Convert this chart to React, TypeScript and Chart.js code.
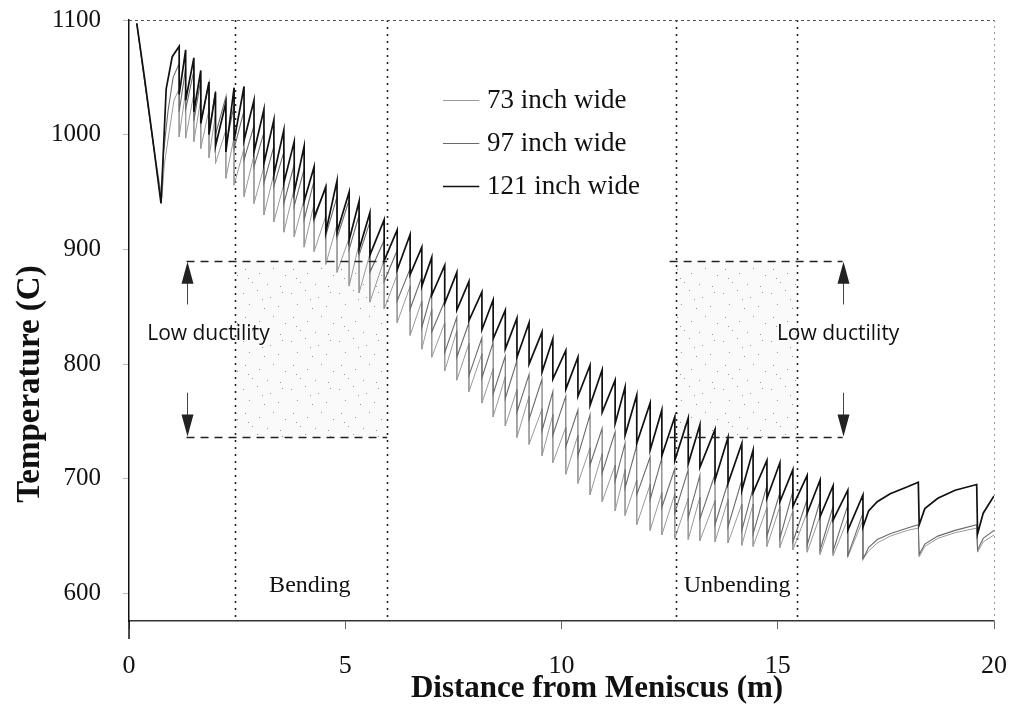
import React, { useEffect, useRef } from "react";
import { Chart, registerables } from "chart.js";

Chart.register(...registerables);

// ---------- data ----------
const seriesNames = ["73 inch wide", "97 inch wide", "121 inch wide"];
const xTicks = [0, 5, 10, 15, 20];
const yTicks = [600, 700, 800, 900, 1000, 1100];

// roll positions (m) where each sawtooth drop happens
const rollX = [
  1.16, 1.31, 1.5, 1.66, 1.85, 2.0, 2.24, 2.43, 2.66, 2.89,
  3.12, 3.35, 3.58, 3.82, 4.05, 4.28, 4.55, 4.81, 5.09, 5.32,
  5.57, 5.9, 6.2, 6.5, 6.77, 7.0, 7.3, 7.58, 7.86, 8.16,
  8.42, 8.7, 8.97, 9.25, 9.55, 9.8, 10.1, 10.38, 10.66, 10.94,
  11.24, 11.47, 11.74, 12.05, 12.32, 12.62, 12.93, 13.2, 13.55, 13.85,
  14.17, 14.43, 14.75, 15.05, 15.35, 15.68, 15.98, 16.28, 16.62, 16.97,
];

// 121 inch wide
const start121: [number, number][] = [[0.18, 1097], [0.35, 1052], [0.55, 996], [0.74, 940], [0.8, 990], [0.86, 1040], [1.0, 1068]];
const peaks121 = [
  1077, 1074, 1067, 1056, 1046, 1037, 1028, 1041, 1042, 1030,
  1022, 1013, 1004, 994, 990, 972, 954, 960, 950, 942,
  932, 926, 917, 913, 902, 893, 886, 880, 872, 863,
  856, 847, 840, 836, 828, 822, 812, 806, 799, 795,
  786, 780, 773, 766, 760, 754, 753, 747, 743, 736,
  731, 725, 716, 714, 708, 703, 699, 694, 690, 686,
];
const troughs121 = [
  1035, 1030, 1020, 1010, 1000, 990, 985, 995, 995, 985,
  975, 965, 958, 950, 942, 928, 915, 915, 908, 900,
  895, 890, 882, 878, 868, 860, 853, 847, 838, 830,
  822, 813, 806, 800, 793, 787, 778, 772, 764, 758,
  748, 738, 731, 725, 720, 716, 713, 710, 699, 696,
  690, 688, 683, 680, 676, 670, 667, 664, 655, 658,
];
const tail121: [number, number][] = [[17.1, 672], [17.3, 680], [17.6, 687], [18.0, 693], [18.25, 697], [18.27, 660], [18.4, 674], [18.7, 683], [19.1, 690], [19.6, 695], [19.62, 652], [19.75, 670], [20, 685]];

// 97 inch wide
const start97: [number, number][] = [[0.18, 1097], [0.35, 1050], [0.55, 995], [0.74, 942], [0.8, 985], [0.9, 1020], [1.02, 1050]];
const peaks97 = [
  1062, 1058, 1056, 1048, 1045, 1038, 1033, 1026, 1021, 1008,
  1002, 990, 985, 974, 970, 960, 956, 946, 943, 930,
  924, 908, 899, 883, 876, 863, 855, 841, 836, 823,
  819, 807, 803, 791, 787, 776, 772, 760, 756, 744,
  741, 731, 729, 719, 718, 709, 708, 703, 704, 697,
  699, 692, 694, 688, 689, 682, 681, 676, 677, 670,
];
const troughs97 = [
  1020, 1022, 1012, 1010, 1002, 1000, 990, 988, 978, 972,
  958, 955, 940, 938, 926, 925, 912, 910, 900, 895,
  880, 872, 855, 848, 832, 828, 810, 806, 790, 788,
  774, 770, 758, 752, 742, 738, 728, 720, 712, 705,
  698, 692, 686, 682, 675, 670, 666, 665, 660, 658,
  655, 652, 650, 648, 645, 642, 638, 637, 633, 630,
];
const tail97: [number, number][] = [[17.1, 640], [17.3, 647], [17.6, 652], [18.0, 657], [18.25, 660], [18.27, 634], [18.4, 643], [18.7, 650], [19.1, 655], [19.6, 660], [19.62, 638], [19.75, 648], [20, 655]];

// 73 inch wide
const start73: [number, number][] = [[0.18, 1097], [0.35, 1049], [0.55, 994], [0.76, 945], [0.82, 975], [0.92, 1000], [1.04, 1030]];
const peaks73 = [
  1040, 1038, 1036, 1031, 1022, 1018, 1004, 998, 988, 982,
  972, 966, 957, 953, 944, 940, 929, 922, 910, 905,
  896, 891, 878, 868, 855, 848, 836, 829, 818, 809,
  796, 789, 778, 772, 761, 756, 745, 738, 727, 722,
  712, 708, 699, 695, 688, 687, 683, 684, 681, 682,
  678, 678, 675, 676, 672, 671, 668, 668, 665, 664,
];
const troughs73 = [
  998, 997, 994, 988, 980, 975, 962, 956, 946, 940,
  930, 924, 915, 911, 902, 898, 887, 880, 868, 862,
  854, 848, 836, 825, 813, 806, 794, 786, 776, 766,
  754, 746, 736, 730, 720, 714, 704, 696, 686, 680,
  672, 668, 660, 655, 651, 648, 647, 646, 645, 644,
  642, 641, 641, 640, 638, 636, 634, 633, 632, 630,
];
const tail73: [number, number][] = [[17.1, 637], [17.3, 644], [17.6, 650], [18.0, 655], [18.25, 657], [18.27, 632], [18.4, 641], [18.7, 648], [19.1, 653], [19.6, 657], [19.62, 636], [19.75, 645], [20, 651]];

// annotations (data units)
const zoneLinesX = [2.45, 5.97, 12.65, 15.45];
const ductilityBand = [736, 890];
const boxSpans: [number, number][] = [[1.33, 5.97], [12.5, 16.5]];
const shadeSpans: [number, number][] = [[2.45, 5.97], [12.65, 15.45]];
const arrowX = [1.33, 16.5];
const arrowShaftEnds = [852, 775];
const ductilityLabels: [number, number][] = [[0.42, 826], [14.98, 826]];
const zoneLabels: [string, number, number][] = [["Bending", 4.18, 607], ["Unbending", 14.06, 607]];
const legendLineX = [7.26, 8.1];
const legendTextX = 8.28;
const legendRowsY = [1030, 993, 955];

// ---------- helpers ----------
function buildSeries(start: [number, number][], peaks: number[], troughs: number[], tail: [number, number][]) {
  const pts: { x: number; y: number }[] = start.map(([x, y]) => ({ x, y }));
  rollX.forEach((x, i) => {
    pts.push({ x, y: peaks[i] });
    pts.push({ x, y: troughs[i] });
  });
  tail.forEach(([x, y]) => pts.push({ x, y }));
  return pts;
}

const seriesColors = ["#9a9a9a", "#6a6a6a", "#111111"];
const seriesWidths = [1, 1.1, 1.7];
const SERIF = '"Liberation Serif", "Times New Roman", serif';
const SANS = '"Open Sans", "Liberation Sans", sans-serif';

function makeStipple(ctx: CanvasRenderingContext2D) {
  const c = document.createElement("canvas");
  c.width = 48;
  c.height = 48;
  const g = c.getContext("2d")!;
  g.fillStyle = "rgba(0,0,0,0.02)";
  g.fillRect(0, 0, 48, 48);
  g.fillStyle = "rgba(80,80,80,0.6)";
  const dots = [[3, 5], [17, 2], [30, 9], [42, 4], [9, 16], [24, 20], [38, 18], [5, 29], [19, 33], [33, 28], [45, 35], [12, 42], [27, 44], [40, 46], [22, 11], [8, 38]];
  dots.forEach(([x, y]) => g.fillRect(x, y, 1, 1));
  return ctx.createPattern(c, "repeat");
}

const annotationPlugin = {
  id: "ductilityAnnotations",
  beforeDatasetsDraw(chart: any) {
    const { ctx, chartArea, scales } = chart;
    const xs = scales.x, ys = scales.y;
    const yTop = ys.getPixelForValue(ductilityBand[1]);
    const yBot = ys.getPixelForValue(ductilityBand[0]);
    ctx.save();
    const pat = makeStipple(ctx);
    shadeSpans.forEach(([a, b]) => {
      const x1 = xs.getPixelForValue(a), x2 = xs.getPixelForValue(b);
      ctx.fillStyle = pat;
      ctx.fillRect(x1, yTop, x2 - x1, yBot - yTop);
    });
    ctx.strokeStyle = "#222";
    ctx.lineWidth = 1.6;
    ctx.setLineDash([2, 5]);
    zoneLinesX.forEach((v) => {
      const px = Math.round(xs.getPixelForValue(v)) + 0.5;
      ctx.beginPath();
      ctx.moveTo(px, chartArea.top);
      ctx.lineTo(px, chartArea.bottom);
      ctx.stroke();
    });
    ctx.strokeStyle = "#555";
    ctx.lineWidth = 1;
    ctx.setLineDash([3, 3]);
    ctx.beginPath();
    ctx.moveTo(chartArea.left, chartArea.top + 0.5);
    ctx.lineTo(chartArea.right, chartArea.top + 0.5);
    ctx.stroke();
    ctx.strokeStyle = "#999";
    ctx.setLineDash([2, 4]);
    ctx.beginPath();
    ctx.moveTo(chartArea.right + 0.5, chartArea.top);
    ctx.lineTo(chartArea.right + 0.5, chartArea.bottom);
    ctx.stroke();
    ctx.restore();
  },
  afterDatasetsDraw(chart: any) {
    const { ctx, chartArea, scales } = chart;
    const xs = scales.x, ys = scales.y;
    const yTop = ys.getPixelForValue(ductilityBand[1]);
    const yBot = ys.getPixelForValue(ductilityBand[0]);
    ctx.save();
    ctx.strokeStyle = "#222";
    ctx.lineWidth = 1.6;
    ctx.setLineDash([8, 6]);
    boxSpans.forEach(([a, b]) => {
      const x1 = xs.getPixelForValue(a), x2 = xs.getPixelForValue(b);
      [yTop, yBot].forEach((py) => {
        ctx.beginPath();
        ctx.moveTo(x1, Math.round(py) + 0.5);
        ctx.lineTo(x2, Math.round(py) + 0.5);
        ctx.stroke();
      });
    });
    ctx.setLineDash([]);
    arrowX.forEach((v) => {
      const px = Math.round(xs.getPixelForValue(v)) + 0.5;
      const upEnd = ys.getPixelForValue(arrowShaftEnds[0]);
      const downStart = ys.getPixelForValue(arrowShaftEnds[1]);
      ctx.strokeStyle = "#444";
      ctx.lineWidth = 1;
      ctx.beginPath();
      ctx.moveTo(px, yTop + 18);
      ctx.lineTo(px, upEnd);
      ctx.moveTo(px, downStart);
      ctx.lineTo(px, yBot - 18);
      ctx.stroke();
      ctx.fillStyle = "#222";
      ctx.beginPath();
      ctx.moveTo(px, yTop + 1);
      ctx.lineTo(px - 6, yTop + 23);
      ctx.lineTo(px + 6, yTop + 23);
      ctx.closePath();
      ctx.fill();
      ctx.beginPath();
      ctx.moveTo(px, yBot - 1);
      ctx.lineTo(px - 6, yBot - 23);
      ctx.lineTo(px + 6, yBot - 23);
      ctx.closePath();
      ctx.fill();
    });
    ctx.fillStyle = "#111";
    ctx.font = `21px ${SANS}`;
    ctx.textAlign = "left";
    ctx.textBaseline = "middle";
    ductilityLabels.forEach(([x, y]) => {
      ctx.fillText("Low ductility", xs.getPixelForValue(x), ys.getPixelForValue(y));
    });
    ctx.font = `24px ${SERIF}`;
    ctx.textAlign = "center";
    zoneLabels.forEach(([t, x, y]) => {
      ctx.fillText(t, xs.getPixelForValue(x), ys.getPixelForValue(y));
    });
    ctx.font = `27px ${SERIF}`;
    ctx.textAlign = "left";
    legendRowsY.forEach((y, i) => {
      const py = Math.round(ys.getPixelForValue(y)) + 0.5;
      ctx.strokeStyle = seriesColors[i];
      ctx.lineWidth = seriesWidths[i];
      ctx.beginPath();
      ctx.moveTo(xs.getPixelForValue(legendLineX[0]), py);
      ctx.lineTo(xs.getPixelForValue(legendLineX[1]), py);
      ctx.stroke();
      ctx.fillStyle = "#111";
      ctx.fillText(seriesNames[i], xs.getPixelForValue(legendTextX), py);
    });
    ctx.strokeStyle = "#111";
    ctx.lineWidth = 1.5;
    ctx.beginPath();
    ctx.moveTo(chartArea.left, chartArea.bottom);
    ctx.lineTo(chartArea.left, chartArea.bottom + 18);
    ctx.stroke();
    ctx.fillStyle = "#111";
    ctx.font = `bold 31px ${SERIF}`;
    ctx.textAlign = "center";
    ctx.textBaseline = "middle";
    ctx.fillText("Distance from Meniscus (m)", 597, 689);
    ctx.translate(30, 384);
    ctx.rotate(-Math.PI / 2);
    ctx.font = `bold 33px ${SERIF}`;
    ctx.fillText("Temperature (C)", 0, 0);
    ctx.restore();
  },
};

export default function App() {
  const canvasRef = useRef<HTMLCanvasElement | null>(null);

  useEffect(() => {
    const canvas = canvasRef.current;
    if (!canvas) return;
    const data73 = buildSeries(start73, peaks73, troughs73, tail73);
    const data97 = buildSeries(start97, peaks97, troughs97, tail97);
    const data121 = buildSeries(start121, peaks121, troughs121, tail121);
    const allData = [data73, data97, data121];

    const chart = new Chart(canvas, {
      type: "line",
      data: {
        datasets: allData.map((d, i) => ({
          label: seriesNames[i],
          data: d,
          borderColor: seriesColors[i],
          borderWidth: seriesWidths[i],
          pointRadius: 0,
          tension: 0,
          fill: false,
          order: 2 - i,
        })),
      },
      options: {
        responsive: false,
        animation: false,
        events: [],
        layout: { autoPadding: false, padding: { top: 20, right: 22, left: 0, bottom: 0 } },
        plugins: {
          legend: { display: false },
          tooltip: { enabled: false },
          title: { display: false },
        },
        scales: {
          x: {
            type: "linear",
            min: 0,
            max: 20,
            afterBuildTicks: (s: any) => {
              s.ticks = xTicks.map((v) => ({ value: v }));
            },
            afterFit: (s: any) => {
              s.height = 83;
              s.paddingLeft = 0;
              s.paddingRight = 0;
            },
            ticks: {
              color: "#111",
              font: { family: SERIF, size: 26 },
              padding: 22,
              maxRotation: 0,
              callback: (v: any) => String(v),
            },
            grid: { drawOnChartArea: false, drawTicks: true, tickLength: 8, color: "#666" },
            border: { display: true, color: "#333", width: 1.5 },
          },
          y: {
            type: "linear",
            min: 576,
            max: 1100,
            afterBuildTicks: (s: any) => {
              s.ticks = yTicks.map((v) => ({ value: v }));
            },
            afterFit: (s: any) => {
              s.width = 129;
              s.paddingTop = 0;
              s.paddingBottom = 0;
            },
            ticks: {
              color: "#111",
              font: { family: SERIF, size: 25 },
              padding: 22,
              callback: (v: any) => String(v),
            },
            grid: { drawOnChartArea: false, drawTicks: true, tickLength: 6, color: "#bbb" },
            border: { display: true, color: "#111", width: 1.5 },
          },
        },
      },
      plugins: [annotationPlugin],
    });
    return () => chart.destroy();
  }, []);

  return (
    <div style={{ position: "absolute", left: 0, top: 0, width: 1016, height: 704, background: "#fff" }}>
      <canvas ref={canvasRef} width={1016} height={704} style={{ display: "block" }} />
    </div>
  );
}
